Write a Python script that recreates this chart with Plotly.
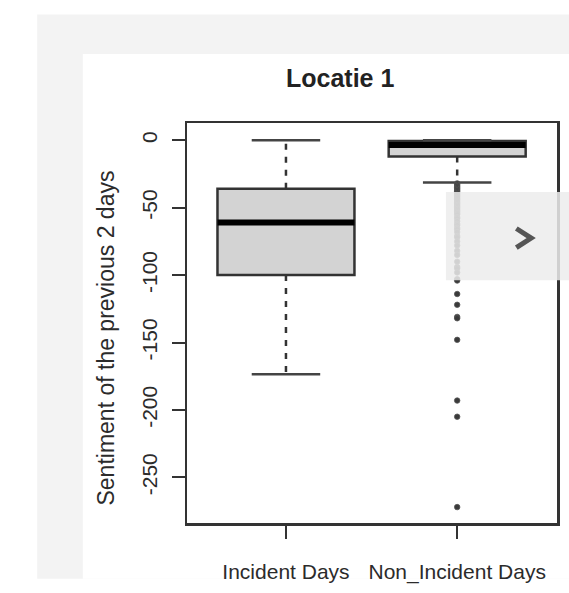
import plotly.graph_objects as go

# ---------------- data ----------------
categories = ["Incident Days", "Non_Incident Days"]
q1_vals = [-100, -12]
median_vals = [-61, -3.5]
q3_vals = [-36, -0.5]
lower_whisker = [-173.5, -31.3]
upper_whisker = [0, 0]
outliers_non_incident = [
    -32, -33, -34, -35, -36, -37, -38, -39, -40, -41, -42, -43, -44, -45,
    -46, -47, -48, -49, -50, -51, -52, -53, -54, -55, -57, -58, -60, -62,
    -63, -65, -66, -68, -71, -72, -75, -78, -82, -85, -90, -94, -95, -98,
    -103, -104, -114, -122, -131, -132, -148, -193, -205, -272,
]
y_tick_vals = [0, -50, -100, -150, -200, -250]
y_tick_text = ["0", "-50", "-100", "-150", "-200", "-250"]
title_text = "Locatie 1"
y_title_text = "Sentiment of the previous 2 days"

# ---------------- layout geometry (page pixels) ----------------
W, H = 569, 593
PLOT_L, PLOT_R, PLOT_T, PLOT_B = 187, 560, 123, 540
L, R, T, B = PLOT_L, W - PLOT_R, PLOT_T, H - PLOT_B
PW, PH = PLOT_R - PLOT_L, PLOT_B - PLOT_T


def px2x(px):
    return (px - PLOT_L) / PW


def px2y(py):
    return (PLOT_B - py) / PH


FONT = "Liberation Sans, Arial, sans-serif"
TXT = "#2b2b2b"
LINE = "#333333"
box_w = 0.8
xpos = list(range(len(categories)))

fig = go.Figure()

fig.add_trace(go.Box(
    x=xpos, q1=q1_vals, median=median_vals, q3=q3_vals,
    lowerfence=q1_vals, upperfence=q3_vals,
    width=box_w, whiskerwidth=0,
    fillcolor="#d3d3d3", line=dict(color=LINE, width=2.5),
    boxpoints=False, showlegend=False, hoverinfo="skip",
))

for i, xc in enumerate(xpos):
    for a, b in ((q3_vals[i], upper_whisker[i]), (q1_vals[i], lower_whisker[i])):
        if a != b:
            fig.add_trace(go.Scatter(
                x=[xc, xc], y=[a, b], mode="lines",
                line=dict(color=LINE, width=2.5, dash="6px,7px"),
                showlegend=False, hoverinfo="skip"))
    for v in (upper_whisker[i], lower_whisker[i]):
        fig.add_trace(go.Scatter(
            x=[xc - box_w / 4, xc + box_w / 4], y=[v, v], mode="lines",
            line=dict(color="#444444", width=2.5),
            showlegend=False, hoverinfo="skip"))
    fig.add_trace(go.Scatter(
        x=[xc - box_w / 2, xc + box_w / 2], y=[median_vals[i], median_vals[i]],
        mode="lines", line=dict(color="#000000", width=6),
        showlegend=False, hoverinfo="skip"))

fig.add_trace(go.Scatter(
    x=[xpos[1]] * len(outliers_non_incident), y=outliers_non_incident,
    mode="markers",
    marker=dict(symbol="circle", size=5.5, color="#3a3a3a",
                line=dict(width=0.8, color="#555555")),
    showlegend=False, hoverinfo="skip"))

shapes = [
    dict(type="rect", xref="paper", yref="paper", layer="below",
         x0=px2x(36), x1=px2x(W + 5), y0=px2y(H + 5), y1=px2y(10),
         fillcolor="#f3f3f3", line=dict(width=0)),
    dict(type="rect", xref="paper", yref="paper", layer="below",
         x0=px2x(82), x1=px2x(W + 5), y0=px2y(H + 5), y1=px2y(51),
         fillcolor="#ffffff", line=dict(width=0)),
    dict(type="rect", xref="paper", yref="paper", layer="above",
         x0=px2x(448), x1=px2x(W + 5), y0=px2y(287), y1=px2y(195),
         fillcolor="rgba(236,236,236,0.85)", line=dict(width=0)),
    dict(type="path", xref="paper", yref="paper", layer="above",
         path=(f"M {px2x(519)},{px2y(233)} L {px2x(534)},{px2y(243)} "
               f"L {px2x(519)},{px2y(253)}"),
         line=dict(color="#555555", width=5)),
]

annotations = [
    dict(text=title_text, xref="paper", yref="paper", x=px2x(341), y=px2y(76),
         xanchor="center", yanchor="middle", showarrow=False,
         font=dict(family=FONT, size=25, color="#222222", weight="bold")),
    dict(text=y_title_text, xref="paper", yref="paper", x=px2x(105), y=px2y(347),
         xanchor="center", yanchor="middle", textangle=-90, showarrow=False,
         font=dict(family=FONT, size=23, color=TXT)),
]

fig.update_layout(
    width=W, height=H,
    margin=dict(l=L, r=R, t=T, b=B, pad=0),
    paper_bgcolor="#ffffff", plot_bgcolor="#ffffff",
    shapes=shapes, annotations=annotations,
    font=dict(family=FONT, size=21, color=TXT),
    hovermode=False,
)
fig.update_xaxes(
    range=[-0.578, 1.583], tickvals=xpos, ticktext=categories,
    showgrid=False, zeroline=False, showline=True, mirror=True,
    linecolor=LINE, linewidth=2.5, ticks="outside", ticklen=13,
    tickwidth=2, tickcolor=LINE, ticklabelstandoff=15,
    tickfont=dict(family=FONT, size=21, color=TXT),
)
fig.update_yaxes(
    range=[-283.8, 12.8], tickvals=y_tick_vals, ticktext=y_tick_text,
    tickangle=-90, showgrid=False, zeroline=False, showline=True, mirror=True,
    linecolor=LINE, linewidth=2.5, ticks="outside", ticklen=13,
    tickwidth=2, tickcolor=LINE, ticklabelstandoff=6,
    tickfont=dict(family=FONT, size=21, color=TXT),
)

page_css = (
    "var h=document.documentElement.style,b=document.body.style;"
    "h.margin=b.margin='0';h.padding=b.padding='0';"
    "h.overflow=b.overflow='hidden';"
)

fig.write_html(
    "out.html",
    config={"displayModeBar": False, "staticPlot": True},
    post_script=page_css,
)
